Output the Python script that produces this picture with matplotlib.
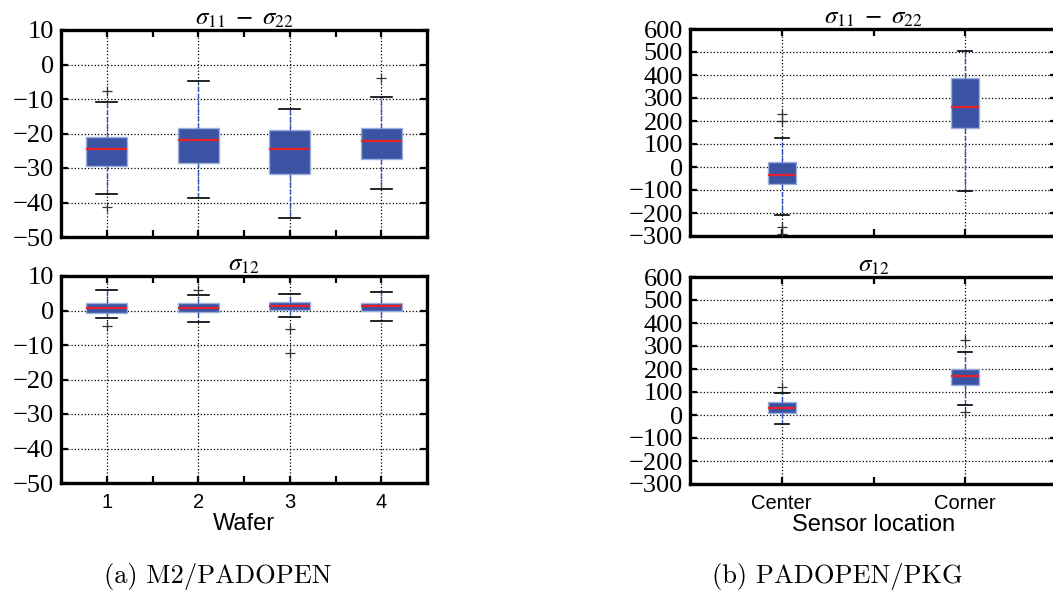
import matplotlib
matplotlib.use("Agg")
import matplotlib.pyplot as plt
from matplotlib.ticker import FixedLocator, FuncFormatter

plt.rcParams['mathtext.fontset'] = 'stix'

# ---------------- data ----------------
wafers = ["1", "2", "3", "4"]
locations = ["Center", "Corner"]

# (a) M2/PADOPEN, sigma11 - sigma22
a_diff_med = [-24.6, -21.8, -24.5, -22.2]
a_diff_q1 = [-29.3, -28.6, -31.7, -27.4]
a_diff_q3 = [-20.9, -18.3, -19.0, -18.3]
a_diff_lo = [-37.5, -38.8, -44.5, -36.0]
a_diff_hi = [-10.9, -4.9, -12.8, -9.4]
a_diff_fl = [[-7.8, -41.3], [], [], [-3.9]]

# (a) M2/PADOPEN, sigma12
a_shear_med = [0.65, 0.75, 1.3, 1.2]
a_shear_q1 = [-0.8, -0.5, 0.1, -0.1]
a_shear_q3 = [2.3, 2.1, 2.4, 2.3]
a_shear_lo = [-2.15, -3.4, -1.8, -2.9]
a_shear_hi = [5.95, 4.4, 4.7, 5.4]
a_shear_fl = [[-4.6], [5.95], [-5.3, -12.2], []]

# (b) PADOPEN/PKG, sigma11 - sigma22
b_diff_med = [-34, 262]
b_diff_q1 = [-76, 170]
b_diff_q3 = [22, 385]
b_diff_lo = [-207, -103]
b_diff_hi = [125, 503]
b_diff_fl = [[230, 198, -259, -292], []]

# (b) PADOPEN/PKG, sigma12
b_shear_med = [32, 168]
b_shear_q1 = [10, 130]
b_shear_q3 = [55, 201]
b_shear_lo = [-39, 42]
b_shear_hi = [94, 276]
b_shear_fl = [[123], [328, 11]]

a_yticks = [10, 0, -10, -20, -30, -40, -50]
b_yticks = [600, 500, 400, 300, 200, 100, 0, -100, -200, -300]

title_diff = r'$\sigma_{11}\ -\ \sigma_{22}$'
title_shear = r'$\sigma_{12}$'

# ---------------- styling ----------------
W, H = 1053, 592
fig = plt.figure(figsize=(W / 100, H / 100), dpi=100)

BOX_FACE = '#3a54a3'
BOX_EDGE = '#9fb0dc'
WHISK = '#3355c0'
MED = '#e8202a'


def px_axes(x0, x1, ytop, ybot):
    return fig.add_axes([x0 / W, 1 - ybot / H, (x1 - x0) / W, (ybot - ytop) / H])


def make_stats(med, q1, q3, lo, hi, fl):
    return [dict(med=m, q1=a, q3=b, whislo=l, whishi=h, fliers=f)
            for m, a, b, l, h, f in zip(med, q1, q3, lo, hi, fl)]


def fmt(v, _):
    s = f"{v:g}"
    return s.replace('-', '\u2212')


def draw(ax, stats, names, width, yticks, title, show_x, xlabel=None):
    n = len(stats)
    pos = list(range(1, n + 1))
    ax.bxp(stats, positions=pos, widths=width, patch_artist=True,
           showfliers=True,
           boxprops=dict(facecolor=BOX_FACE, edgecolor=BOX_EDGE, linewidth=1.0),
           whiskerprops=dict(color=WHISK, linestyle='--', linewidth=1.0),
           capprops=dict(color='black', linewidth=1.2),
           medianprops=dict(color=MED, linewidth=1.6),
           flierprops=dict(marker='+', markeredgecolor='#333333', markersize=7,
                           markeredgewidth=0.9, linestyle='none'),
           capwidths=width * 0.5, zorder=3)
    ax.set_xlim(0.5, n + 0.5)
    ax.set_ylim(min(yticks), max(yticks))
    ax.yaxis.set_major_locator(FixedLocator(yticks))
    ax.yaxis.set_major_formatter(FuncFormatter(fmt))
    ax.set_xticks(pos)
    ax.set_xticks([p + 0.5 for p in pos[:-1]], minor=True)
    if show_x:
        ax.set_xticklabels(names)
    else:
        ax.set_xticklabels([])
    for lab in ax.get_yticklabels():
        lab.set_fontfamily('Liberation Serif')
        lab.set_fontsize(19)
    for lab in ax.get_xticklabels():
        lab.set_fontfamily('Liberation Sans')
        lab.set_fontsize(14.5)
    ax.tick_params(axis='both', which='both', direction='in', top=True, right=True,
                   length=5, width=1.6)
    ax.tick_params(axis='y', pad=5)
    ax.tick_params(axis='x', pad=7)
    ax.grid(True, which='major', color='black', linestyle=':', linewidth=0.9)
    ax.set_axisbelow(True)
    for sp in ax.spines.values():
        sp.set_linewidth(2.4)
    ax.set_title(title, fontsize=18, pad=2)
    if xlabel:
        ax.set_xlabel(xlabel, fontfamily='Liberation Sans', fontsize=17, labelpad=1)


ax1 = px_axes(61, 427, 30, 237)
ax2 = px_axes(61, 427, 276, 483)
ax3 = px_axes(690, 1057, 29, 236)
ax4 = px_axes(690, 1057, 277, 484)

draw(ax1, make_stats(a_diff_med, a_diff_q1, a_diff_q3, a_diff_lo, a_diff_hi, a_diff_fl),
     wafers, 0.45, a_yticks, title_diff, False)
draw(ax2, make_stats(a_shear_med, a_shear_q1, a_shear_q3, a_shear_lo, a_shear_hi, a_shear_fl),
     wafers, 0.45, a_yticks, title_shear, True, 'Wafer')
draw(ax3, make_stats(b_diff_med, b_diff_q1, b_diff_q3, b_diff_lo, b_diff_hi, b_diff_fl),
     locations, 0.15, b_yticks, title_diff, False)
draw(ax4, make_stats(b_shear_med, b_shear_q1, b_shear_q3, b_shear_lo, b_shear_hi, b_shear_fl),
     locations, 0.15, b_yticks, title_shear, True, 'Sensor location')

fig.text(218 / W, 1 - 577 / H, '(a) M2/PADOPEN', ha='center', va='center',
         fontfamily='cmr10', fontsize=19)
fig.text(837 / W, 1 - 577 / H, '(b) PADOPEN/PKG', ha='center', va='center',
         fontfamily='cmr10', fontsize=19)

fig.savefig('out.png', dpi=100)
